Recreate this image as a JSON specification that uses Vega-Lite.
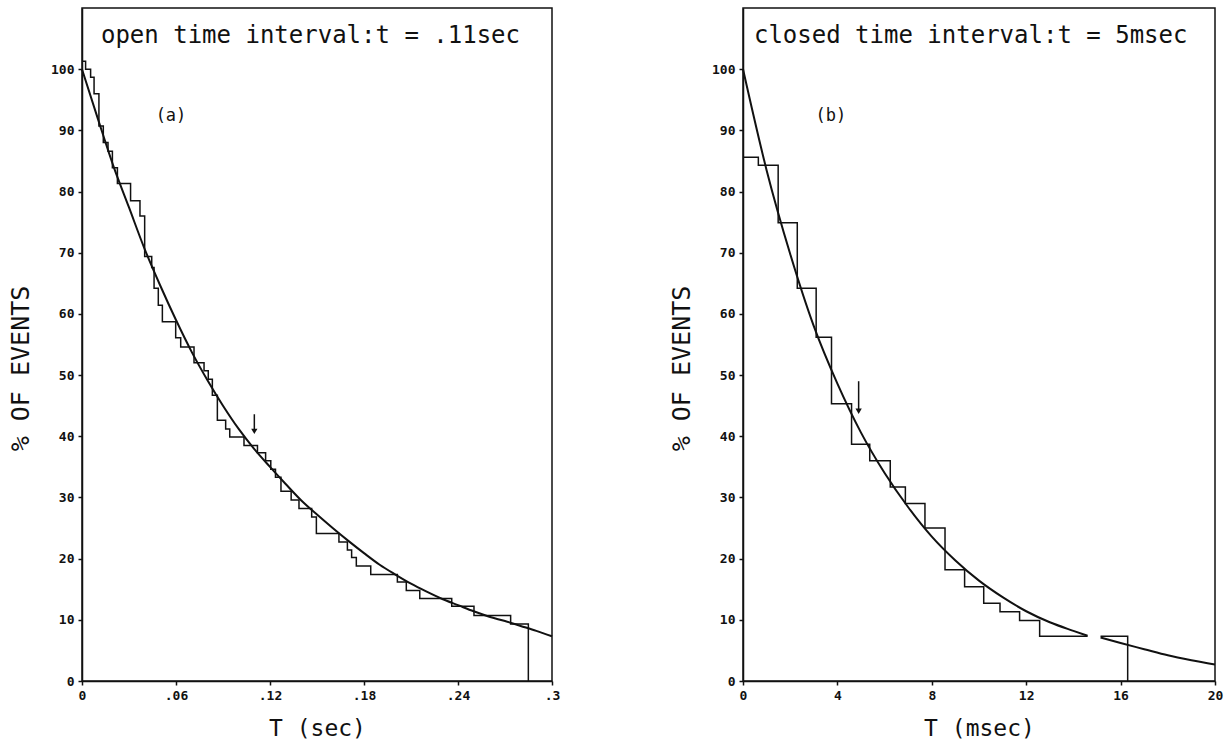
{
  "$schema": "https://vega.github.io/schema/vega-lite/v6.json",
  "padding": {"left": 7, "top": 7, "right": 0, "bottom": 0},
  "background": "white",
  "bounds": "flush",
  "spacing": 191,
  "config": {
    "view": {"stroke": "#111", "strokeWidth": 1.5},
    "axis": {
      "domainColor": "#111", "domainWidth": 1.5, "tickColor": "#111", "tickWidth": 1.5,
      "tickSize": 4, "labelPadding": 4, "labelFont": "DejaVu Sans Mono", "labelFontSize": 13,
      "labelFontWeight": "bold", "labelColor": "#111", "titleFont": "DejaVu Sans Mono",
      "titleFontSize": 23, "titleFontWeight": "normal", "titleColor": "#111", "grid": false,
      "labelFlush": false
    },
    "axisX": {"titlePadding": 15},
    "axisY": {"titlePadding": 17, "titleFontSize": 25, "titleY": 360}
  },
  "datasets": {
    "stepA": [
      {"t":0,"v":101.3},{"t":0.0023,"v":100.0},{"t":0.0055,"v":98.7},{"t":0.0077,"v":96.0},
      {"t":0.0108,"v":90.7},{"t":0.0136,"v":88.0},{"t":0.0166,"v":86.6},{"t":0.0194,"v":83.9},
      {"t":0.0226,"v":81.3},{"t":0.031,"v":78.5},{"t":0.037,"v":76.0},{"t":0.040,"v":69.4},
      {"t":0.0445,"v":67.6},{"t":0.046,"v":64.2},{"t":0.0487,"v":61.4},{"t":0.0513,"v":58.7},
      {"t":0.0598,"v":56.1},{"t":0.063,"v":54.6},{"t":0.0715,"v":52.0},{"t":0.0779,"v":50.7},
      {"t":0.0806,"v":49.3},{"t":0.0832,"v":46.7},{"t":0.0864,"v":42.6},{"t":0.0917,"v":41.2},
      {"t":0.0943,"v":39.9},{"t":0.1034,"v":38.5},{"t":0.112,"v":37.3},{"t":0.1172,"v":36.0},
      {"t":0.1205,"v":34.6},{"t":0.1235,"v":33.3},{"t":0.127,"v":31.0},{"t":0.1335,"v":29.6},
      {"t":0.1385,"v":28.2},{"t":0.1466,"v":26.8},{"t":0.1496,"v":24.1},{"t":0.164,"v":22.7},
      {"t":0.1694,"v":21.4},{"t":0.1721,"v":20.2},{"t":0.1751,"v":18.8},{"t":0.1843,"v":17.4},
      {"t":0.2013,"v":16.2},{"t":0.207,"v":14.8},{"t":0.2156,"v":13.5},{"t":0.236,"v":12.2},
      {"t":0.2502,"v":10.7},{"t":0.2736,"v":9.3},{"t":0.2849,"v":0}
    ],
    "curveA": [
      {"t":0,"v":100},{"t":0.01,"v":92},{"t":0.02,"v":84.2},{"t":0.03,"v":77.4},{"t":0.04,"v":70.6},
      {"t":0.05,"v":64.6},{"t":0.06,"v":59.0},{"t":0.07,"v":53.8},{"t":0.08,"v":49.2},{"t":0.09,"v":45.0},
      {"t":0.10,"v":41.2},{"t":0.11,"v":37.9},{"t":0.12,"v":35.0},{"t":0.13,"v":32.2},{"t":0.14,"v":29.5},
      {"t":0.15,"v":27.2},{"t":0.16,"v":25.0},{"t":0.17,"v":22.9},{"t":0.18,"v":20.9},{"t":0.19,"v":19.0},
      {"t":0.20,"v":17.4},{"t":0.21,"v":15.9},{"t":0.22,"v":14.6},{"t":0.23,"v":13.4},{"t":0.24,"v":12.4},
      {"t":0.25,"v":11.4},{"t":0.26,"v":10.5},{"t":0.27,"v":9.8},{"t":0.28,"v":9.0},{"t":0.29,"v":8.2},
      {"t":0.30,"v":7.3}
    ],
    "stepB": [
      {"seg":1,"t":0,"v":85.6},{"seg":1,"t":0.65,"v":84.3},{"seg":1,"t":1.49,"v":74.9},{"seg":1,"t":2.30,"v":64.2},
      {"seg":1,"t":3.10,"v":56.2},{"seg":1,"t":3.75,"v":45.3},{"seg":1,"t":4.60,"v":38.7},{"seg":1,"t":5.37,"v":36.0},
      {"seg":1,"t":6.24,"v":31.7},{"seg":1,"t":6.88,"v":29.0},{"seg":1,"t":7.71,"v":25.0},{"seg":1,"t":8.56,"v":18.2},
      {"seg":1,"t":9.39,"v":15.4},{"seg":1,"t":10.2,"v":12.7},{"seg":1,"t":10.89,"v":11.3},{"seg":1,"t":11.72,"v":9.9},
      {"seg":1,"t":12.57,"v":7.3},{"seg":1,"t":14.6,"v":7.3},
      {"seg":2,"t":15.15,"v":7.3},{"seg":2,"t":16.3,"v":7.3},{"seg":2,"t":16.3,"v":0}
    ],
    "curveB": [
      {"seg":1,"t":0,"v":100},{"seg":1,"t":1,"v":83.5},{"seg":1,"t":2,"v":69.8},{"seg":1,"t":3,"v":58.0},
      {"seg":1,"t":4,"v":48.6},{"seg":1,"t":5,"v":40.6},{"seg":1,"t":6,"v":34.0},{"seg":1,"t":7,"v":28.4},
      {"seg":1,"t":8,"v":23.6},{"seg":1,"t":9,"v":19.7},{"seg":1,"t":10,"v":16.4},{"seg":1,"t":11,"v":13.7},
      {"seg":1,"t":12,"v":11.4},{"seg":1,"t":13,"v":9.6},{"seg":1,"t":14,"v":8.2},{"seg":1,"t":14.6,"v":7.4},
      {"seg":2,"t":15.15,"v":7.1},{"seg":2,"t":16,"v":6.2},{"seg":2,"t":17,"v":5.2},{"seg":2,"t":18,"v":4.2},
      {"seg":2,"t":19,"v":3.4},{"seg":2,"t":20,"v":2.7}
    ],
    "arrowA": [{"t":0.11,"top":43.6,"bottom":40.8}],
    "arrowB": [{"t":4.9,"top":49.0,"bottom":44.1}],
    "titleA": [{"t":0.0121,"v":105.5,"label":"open time interval:t = .11sec"}],
    "tagA": [{"t":0.0568,"v":92.3,"label":"(a)"}],
    "titleB": [{"t":0.465,"v":105.5,"label":"closed time interval:t = 5msec"}],
    "tagB": [{"t":3.72,"v":92.3,"label":"(b)"}]
  },
  "hconcat": [
    {
      "width": 470,
      "height": 673,
      "layer": [
        {
          "data": {"name": "stepA"},
          "mark": {"type": "line", "interpolate": "step-after", "color": "#111", "strokeWidth": 1.5},
          "encoding": {
            "x": {"field": "t", "type": "quantitative", "title": "T (sec)",
              "scale": {"domain": [0, 0.3], "nice": false},
              "axis": {"values": [0, 0.06, 0.12, 0.18, 0.24, 0.3],
                "labelExpr": "datum.value == 0 ? '0' : replace(format(datum.value, '.2~f'), '0.', '.')"}},
            "y": {"field": "v", "type": "quantitative", "title": "% OF EVENTS",
              "scale": {"domain": [0, 110], "nice": false},
              "axis": {"values": [0, 10, 20, 30, 40, 50, 60, 70, 80, 90, 100]}}
          }
        },
        {
          "data": {"name": "curveA"},
          "mark": {"type": "line", "interpolate": "monotone", "color": "#111", "strokeWidth": 2},
          "encoding": {
            "x": {"field": "t", "type": "quantitative", "title": "T (sec)"},
            "y": {"field": "v", "type": "quantitative", "title": "% OF EVENTS"}
          }
        },
        {
          "data": {"name": "arrowA"},
          "mark": {"type": "rule", "color": "#111", "strokeWidth": 1.5},
          "encoding": {
            "x": {"field": "t", "type": "quantitative", "title": "T (sec)"},
            "y": {"field": "top", "type": "quantitative", "title": "% OF EVENTS"},
            "y2": {"field": "bottom"}
          }
        },
        {
          "data": {"name": "arrowA"},
          "mark": {"type": "point", "shape": "triangle-down", "filled": true, "color": "#111", "size": 40, "opacity": 1},
          "encoding": {
            "x": {"field": "t", "type": "quantitative", "title": "T (sec)"},
            "y": {"field": "bottom", "type": "quantitative", "title": "% OF EVENTS"}
          }
        },
        {
          "data": {"name": "titleA"},
          "mark": {"type": "text", "font": "DejaVu Sans Mono", "fontSize": 24, "align": "left", "baseline": "middle", "color": "#111"},
          "encoding": {
            "x": {"field": "t", "type": "quantitative", "title": "T (sec)"},
            "y": {"field": "v", "type": "quantitative", "title": "% OF EVENTS"},
            "text": {"field": "label"}
          }
        },
        {
          "data": {"name": "tagA"},
          "mark": {"type": "text", "font": "DejaVu Sans Mono", "fontSize": 17, "align": "center", "baseline": "middle", "color": "#111"},
          "encoding": {
            "x": {"field": "t", "type": "quantitative", "title": "T (sec)"},
            "y": {"field": "v", "type": "quantitative", "title": "% OF EVENTS"},
            "text": {"field": "label"}
          }
        }
      ]
    },
    {
      "width": 472,
      "height": 673,
      "layer": [
        {
          "data": {"name": "stepB"},
          "mark": {"type": "line", "interpolate": "step-after", "color": "#111", "strokeWidth": 1.5},
          "encoding": {
            "x": {"field": "t", "type": "quantitative", "title": "T (msec)",
              "scale": {"domain": [0, 20], "nice": false},
              "axis": {"values": [0, 4, 8, 12, 16, 20]}},
            "y": {"field": "v", "type": "quantitative", "title": "% OF EVENTS",
              "scale": {"domain": [0, 110], "nice": false},
              "axis": {"values": [0, 10, 20, 30, 40, 50, 60, 70, 80, 90, 100]}},
            "detail": {"field": "seg", "type": "nominal"},
            "order": {"field": "t", "type": "quantitative"}
          }
        },
        {
          "data": {"name": "curveB"},
          "mark": {"type": "line", "interpolate": "monotone", "color": "#111", "strokeWidth": 2},
          "encoding": {
            "x": {"field": "t", "type": "quantitative", "title": "T (msec)"},
            "y": {"field": "v", "type": "quantitative", "title": "% OF EVENTS"},
            "detail": {"field": "seg", "type": "nominal"}
          }
        },
        {
          "data": {"name": "arrowB"},
          "mark": {"type": "rule", "color": "#111", "strokeWidth": 1.5},
          "encoding": {
            "x": {"field": "t", "type": "quantitative", "title": "T (msec)"},
            "y": {"field": "top", "type": "quantitative", "title": "% OF EVENTS"},
            "y2": {"field": "bottom"}
          }
        },
        {
          "data": {"name": "arrowB"},
          "mark": {"type": "point", "shape": "triangle-down", "filled": true, "color": "#111", "size": 40, "opacity": 1},
          "encoding": {
            "x": {"field": "t", "type": "quantitative", "title": "T (msec)"},
            "y": {"field": "bottom", "type": "quantitative", "title": "% OF EVENTS"}
          }
        },
        {
          "data": {"name": "titleB"},
          "mark": {"type": "text", "font": "DejaVu Sans Mono", "fontSize": 24, "align": "left", "baseline": "middle", "color": "#111"},
          "encoding": {
            "x": {"field": "t", "type": "quantitative", "title": "T (msec)"},
            "y": {"field": "v", "type": "quantitative", "title": "% OF EVENTS"},
            "text": {"field": "label"}
          }
        },
        {
          "data": {"name": "tagB"},
          "mark": {"type": "text", "font": "DejaVu Sans Mono", "fontSize": 17, "align": "center", "baseline": "middle", "color": "#111"},
          "encoding": {
            "x": {"field": "t", "type": "quantitative", "title": "T (msec)"},
            "y": {"field": "v", "type": "quantitative", "title": "% OF EVENTS"},
            "text": {"field": "label"}
          }
        }
      ]
    }
  ]
}
